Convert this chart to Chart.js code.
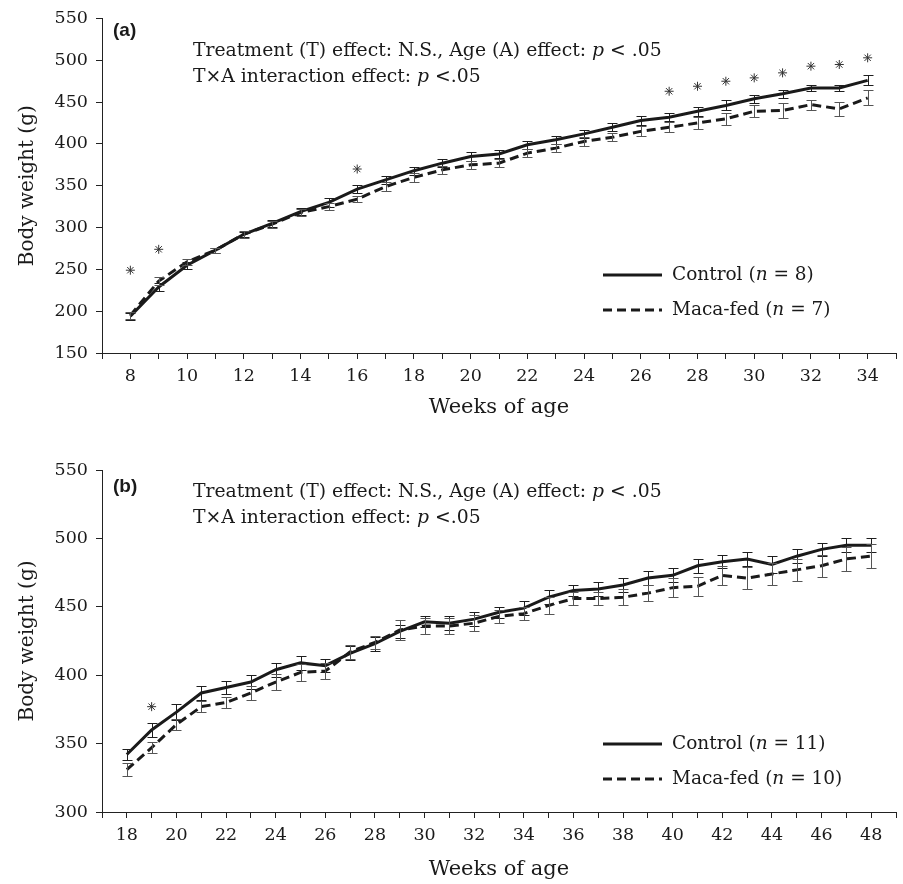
<!DOCTYPE html>
<html>
<head>
<meta charset="utf-8">
<script src="https://cdn.jsdelivr.net/npm/chart.js@4.4.1/dist/chart.umd.min.js"></script>
<style>
body { margin: 0; background: #fff; width: 903px; height: 884px; overflow: hidden; position: relative; }
canvas { position: absolute; left: 0; }
#chartA { top: 0; }
#chartB { top: 440px; }
</style>
</head>
<body>
<canvas id="chartA" width="903" height="440"></canvas>
<canvas id="chartB" width="903" height="444"></canvas>
<script>
// Panel (a): weeks 8-34
var weeksA = [8, 9, 10, 11, 12, 13, 14, 15, 16, 17, 18, 19, 20, 21, 22, 23, 24, 25, 26, 27, 28, 29, 30, 31, 32, 33, 34];
var controlA = [194, 229, 255, 273, 292, 305, 319, 330, 346, 357, 368, 377, 385, 388, 399, 405, 412, 420, 428, 432, 439, 446, 454, 460, 467, 467, 476];
var controlErrA = [4, 5, 4, 3, 3, 4, 4, 5, 5, 5, 5, 5, 5, 5, 5, 5, 5, 5, 5, 5, 5, 6, 5, 5, 4, 4, 6];
var macaA = [195, 236, 259, 273, 292, 304, 318, 325, 334, 349, 360, 369, 375, 377, 389, 395, 403, 408, 415, 420, 425, 430, 439, 440, 447, 442, 455];
var macaErrA = [4, 5, 4, 3, 4, 4, 4, 4, 4, 5, 5, 5, 5, 5, 5, 5, 5, 5, 6, 6, 7, 7, 7, 9, 6, 8, 9];
var starWeeksA = [8, 9, 16, 27, 28, 29, 30, 31, 32, 33, 34];
var starValuesA = [249, 274, 370, 463, 469, 475, 479, 485, 493, 495, 503];

// Panel (b): weeks 18-48
var weeksB = [18, 19, 20, 21, 22, 23, 24, 25, 26, 27, 28, 29, 30, 31, 32, 33, 34, 35, 36, 37, 38, 39, 40, 41, 42, 43, 44, 45, 46, 47, 48];
var controlB = [342, 360, 373, 387, 391, 395, 404, 409, 407, 416, 423, 432, 439, 438, 441, 446, 449, 457, 462, 463, 466, 471, 473, 480, 483, 485, 481, 487, 492, 495, 495];
var controlErrB = [4, 5, 6, 5, 5, 5, 5, 5, 5, 5, 5, 5, 4, 5, 5, 4, 5, 5, 4, 5, 5, 5, 5, 5, 5, 5, 6, 5, 5, 5, 5];
var macaB = [331, 347, 364, 377, 380, 387, 395, 402, 403, 417, 424, 433, 436, 436, 438, 443, 445, 451, 456, 456, 457, 460, 464, 465, 473, 471, 474, 477, 480, 485, 487];
var macaErrB = [5, 4, 4, 4, 4, 5, 6, 6, 6, 5, 5, 7, 6, 6, 6, 5, 5, 6, 5, 5, 6, 6, 7, 7, 7, 8, 8, 8, 8, 9, 9];
var starWeeksB = [19];
var starValuesB = [377];

var serif = "'DejaVu Serif', serif";

function points(xs, ys) {
    return xs.map(function(x, i) { return { x: x, y: ys[i] }; });
}

// vertical error bars with caps, drawn through the chart scales
var errorBarPlugin = {
    id: 'errorBars',
    afterDatasetsDraw: function(chart) {
        var ctx = chart.ctx;
        var xs = chart.scales.x, ys = chart.scales.y;
        chart.data.datasets.forEach(function(ds) {
            if (!ds.errors) return;
            ctx.save();
            ctx.strokeStyle = ds.errorColor;
            ctx.lineWidth = 1;
            ds.data.forEach(function(p, j) {
                var px = Math.round(xs.getPixelForValue(p.x)) + 0.5;
                var top = Math.round(ys.getPixelForValue(p.y + ds.errors[j])) + 0.5;
                var bot = Math.round(ys.getPixelForValue(p.y - ds.errors[j])) + 0.5;
                ctx.beginPath();
                ctx.moveTo(px, top); ctx.lineTo(px, bot);
                ctx.moveTo(px - 5, top); ctx.lineTo(px + 5, top);
                ctx.moveTo(px - 5, bot); ctx.lineTo(px + 5, bot);
                ctx.stroke();
            });
            ctx.restore();
        });
    }
};

function drawRuns(ctx, runs, x, y, size) {
    runs.forEach(function(r) {
        ctx.font = (r.italic ? 'italic ' : '') + size + 'px ' + serif;
        ctx.fillText(r.text, x, y);
        x += ctx.measureText(r.text).width;
    });
}

// panel letter, statistics text and legend
var panelTextPlugin = {
    id: 'panelText',
    afterDraw: function(chart, args, opts) {
        var ctx = chart.ctx;
        ctx.save();
        ctx.fillStyle = '#1a1a1a';
        ctx.textBaseline = 'middle';
        ctx.font = "bold 19px 'Liberation Sans', Arial, sans-serif";
        ctx.fillText(opts.label, opts.labelX, opts.labelY);
        opts.lines.forEach(function(line, i) {
            drawRuns(ctx, line, opts.textX, opts.textY + i * opts.lineGap, 18.8);
        });
        var lineDs = chart.data.datasets.filter(function(d) { return d.legendRuns; });
        lineDs.forEach(function(ds, i) {
            var y = opts.legendY + i * opts.legendGap;
            ctx.save();
            ctx.strokeStyle = ds.borderColor;
            ctx.lineWidth = ds.borderWidth;
            ctx.setLineDash(ds.borderDash || []);
            ctx.beginPath();
            ctx.moveTo(opts.legendX, y);
            ctx.lineTo(opts.legendX + 59, y);
            ctx.stroke();
            ctx.restore();
            drawRuns(ctx, ds.legendRuns, opts.legendX + 69, y, 18.5);
        });
        ctx.restore();
    }
};

var statLines = [
    [{ text: 'Treatment (T) effect: N.S., Age (A) effect: ' }, { text: 'p', italic: true }, { text: ' < .05' }],
    [{ text: 'T\u00d7A interaction effect: ' }, { text: 'p', italic: true }, { text: ' <.05' }]
];

function makeChart(id, p) {
    var ctx = document.getElementById(id).getContext('2d');
    return new Chart(ctx, {
        type: 'line',
        data: {
            datasets: [{
                label: 'Control',
                data: points(p.weeks, p.control),
                errors: p.controlErr,
                errorColor: '#1e1e1e',
                legendRuns: [{ text: 'Control (' }, { text: 'n', italic: true }, { text: ' = ' + p.nControl + ')' }],
                borderColor: '#1a1a1a',
                borderWidth: 3,
                pointRadius: 0,
                tension: 0,
                fill: false
            }, {
                label: 'Maca-fed',
                data: points(p.weeks, p.maca),
                errors: p.macaErr,
                errorColor: '#555',
                legendRuns: [{ text: 'Maca-fed (' }, { text: 'n', italic: true }, { text: ' = ' + p.nMaca + ')' }],
                borderColor: '#1a1a1a',
                borderWidth: 3,
                borderDash: [9, 5],
                pointRadius: 0,
                tension: 0,
                fill: false
            }, {
                type: 'scatter',
                label: 'p < .05',
                data: points(p.starWeeks, p.starValues),
                pointStyle: 'star',
                pointRadius: 4.5,
                borderColor: '#333',
                borderWidth: 1,
                showLine: false
            }]
        },
        options: {
            responsive: false,
            animation: false,
            layout: { padding: { top: p.padTop, right: 6, left: 0, bottom: 0 } },
            plugins: {
                legend: { display: false },
                tooltip: { enabled: false },
                panelText: {
                    label: p.label, labelX: 113, labelY: p.labelY,
                    lines: statLines, textX: 193, textY: p.textY, lineGap: 26,
                    legendX: 603, legendY: p.legendY, legendGap: 35
                }
            },
            scales: {
                x: {
                    type: 'linear',
                    min: p.xMin,
                    max: p.xMax,
                    afterFit: function(s) { s.height = p.xHeight; },
                    border: { display: true, color: '#222', width: 1 },
                    grid: { drawOnChartArea: false, drawTicks: true, tickLength: 6, color: '#222' },
                    ticks: {
                        stepSize: 1,
                        autoSkip: false,
                        maxRotation: 0,
                        padding: 7,
                        color: '#1a1a1a',
                        font: { family: serif, size: 17.5 },
                        callback: function(v) { return (v % 2 === 0 && v >= p.weeks[0]) ? v : ''; }
                    },
                    title: {
                        display: true,
                        text: 'Weeks of age',
                        color: '#1a1a1a',
                        font: { family: serif, size: 21 },
                        padding: { top: 0, bottom: p.xTitlePad }
                    }
                },
                y: {
                    min: p.yMin,
                    max: 550,
                    afterFit: function(s) { s.width = 102; },
                    border: { display: true, color: '#222', width: 1 },
                    grid: { drawOnChartArea: false, drawTicks: true, tickLength: 6, color: '#222' },
                    ticks: {
                        stepSize: 50,
                        padding: 8,
                        color: '#1a1a1a',
                        font: { family: serif, size: 17.5 }
                    },
                    title: {
                        display: true,
                        text: 'Body weight (g)',
                        color: '#1a1a1a',
                        font: { family: serif, size: 20 },
                        padding: { top: 16, bottom: 0 }
                    }
                }
            }
        },
        plugins: [errorBarPlugin, panelTextPlugin]
    });
}

makeChart('chartA', {
    weeks: weeksA, control: controlA, controlErr: controlErrA, maca: macaA, macaErr: macaErrA,
    starWeeks: starWeeksA, starValues: starValuesA, nControl: 8, nMaca: 7,
    xMin: 7, xMax: 35, yMin: 150, padTop: 17, xHeight: 87, xTitlePad: 20,
    label: '(a)', labelY: 31, textY: 51, legendY: 275
});

makeChart('chartB', {
    weeks: weeksB, control: controlB, controlErr: controlErrB, maca: macaB, macaErr: macaErrB,
    starWeeks: starWeeksB, starValues: starValuesB, nControl: 11, nMaca: 10,
    xMin: 17, xMax: 49, yMin: 300, padTop: 30, xHeight: 72, xTitlePad: 2,
    label: '(b)', labelY: 47, textY: 52, legendY: 304
});
</script>
</body>
</html>
